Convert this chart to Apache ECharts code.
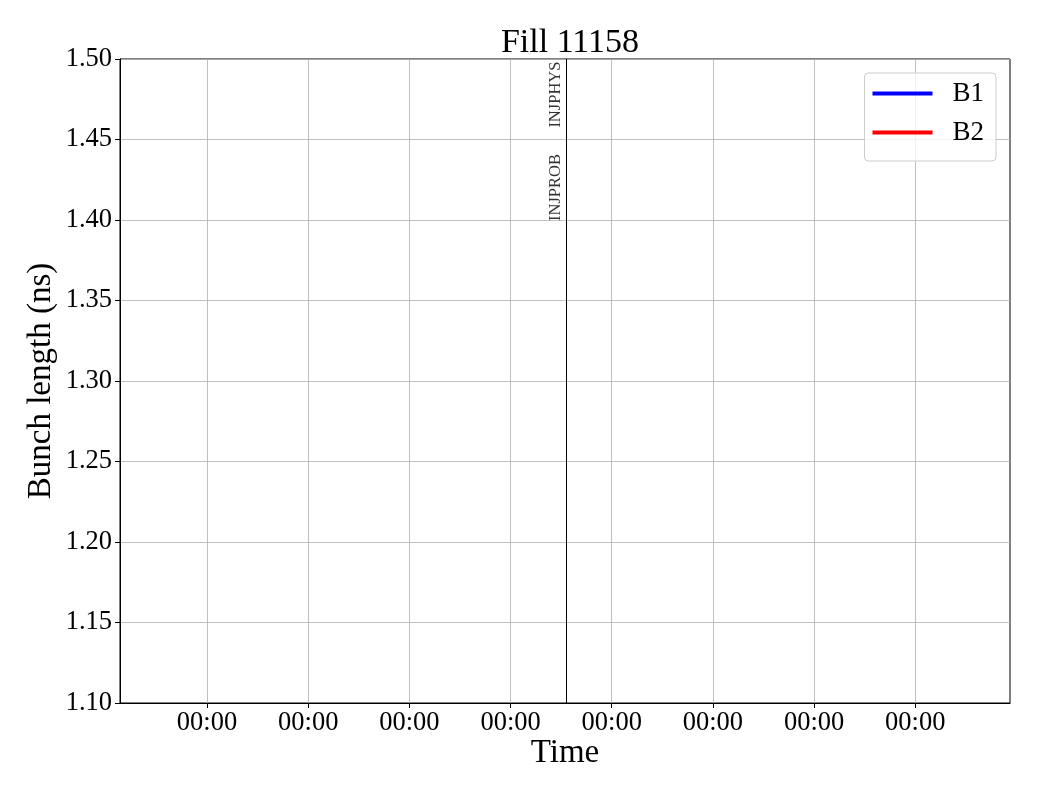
<!DOCTYPE html>
<html>
<head>
<meta charset="utf-8">
<script src="https://cdn.jsdelivr.net/npm/echarts@6/dist/echarts.min.js"></script>
<style>html,body{margin:0;padding:0;background:#fff}#c{width:1040px;height:800px}</style>
</head>
<body>
<div id="c"></div>
<script>
// ---- data ----
var title = 'Fill 11158';
var seriesNames = ['B1', 'B2'];
var seriesColors = ['#0000ff', '#ff0000'];
var b1Values = [];   // no data points visible
var b2Values = [];
var xTickValues = [1, 2, 3, 4, 5, 6, 7, 8];
var xTickLabels = ['00:00', '00:00', '00:00', '00:00', '00:00', '00:00', '00:00', '00:00'];
var xMin = 0.14, xMax = 8.936;
var yMin = 1.10, yMax = 1.50, yStep = 0.05;
var eventX = 4.55;
var eventNames = ['INJPROB', 'INJPHYS'];
var eventY = [1.40, 1.458];

var FONT = '"Liberation Serif","DejaVu Serif",serif';
var chart = echarts.init(document.getElementById('c'), null, {renderer: 'canvas'});

var eventPoints = eventNames.map(function (n, i) { return {value: [eventX, eventY[i]], name: n}; });

var option = {
  animation: false,
  backgroundColor: '#fff',
  title: {
    text: title, left: 565, top: 21, textAlign: 'center',
    textStyle: {fontFamily: FONT, fontSize: 34, fontWeight: 'normal', color: '#000'}
  },
  legend: {
    data: seriesNames,
    right: 44, top: 73, orient: 'vertical',
    icon: 'rect', itemWidth: 60, itemHeight: 4, itemGap: 12,
    padding: [7, 12, 15, 8],
    borderColor: '#cccccc', borderWidth: 1, borderRadius: 4,
    backgroundColor: 'rgba(255,255,255,0.8)',
    textStyle: {fontFamily: FONT, fontSize: 27, color: '#000', padding: [0, 0, 0, 15]}
  },
  grid: {
    left: 120, right: 30, top: 59, bottom: 97,
    show: true, borderColor: '#000', borderWidth: 1, backgroundColor: 'transparent'
  },
  xAxis: {
    type: 'value', min: xMin, max: xMax,
    name: 'Time', nameLocation: 'middle', nameGap: 34, nameMoveOverlap: false,
    nameTextStyle: {fontFamily: FONT, fontSize: 33, color: '#000'},
    axisLine: {show: true, lineStyle: {color: '#000', width: 1}},
    axisTick: {show: true, length: 5, lineStyle: {color: '#000'}, customValues: xTickValues},
    axisLabel: {
      customValues: xTickValues,
      fontFamily: FONT, fontSize: 26.5, color: '#000', margin: 7,
      formatter: function (v) { var i = xTickValues.indexOf(v); return i >= 0 ? xTickLabels[i] : ''; }
    },
    splitLine: {show: true, lineStyle: {color: '#b0b0b0', width: 0.8}}
  },
  yAxis: {
    type: 'value', min: yMin, max: yMax, interval: yStep,
    name: 'Bunch length (ns)', nameLocation: 'middle', nameGap: 62, nameRotate: 90, nameMoveOverlap: false,
    nameTextStyle: {fontFamily: FONT, fontSize: 33, color: '#000'},
    axisLine: {show: true, lineStyle: {color: '#000', width: 1}},
    axisTick: {show: true, length: 5, lineStyle: {color: '#000'}},
    axisLabel: {
      fontFamily: FONT, fontSize: 26.5, color: '#000', margin: 8,
      formatter: function (v) { return v.toFixed(2); }
    },
    splitLine: {show: true, lineStyle: {color: '#b0b0b0', width: 0.8}}
  },
  series: [
    {name: seriesNames[0], type: 'line', data: b1Values, showSymbol: false,
     lineStyle: {color: seriesColors[0], width: 3}, itemStyle: {color: seriesColors[0]}},
    {name: seriesNames[1], type: 'line', data: b2Values, showSymbol: false,
     lineStyle: {color: seriesColors[1], width: 3}, itemStyle: {color: seriesColors[1]}},
    {
      name: 'events', type: 'scatter', data: eventPoints, symbolSize: 0.001,
      silent: true,
      label: {
        show: true, formatter: '{b}', rotate: 90, position: 'inside',
        align: 'left', verticalAlign: 'bottom', offset: [-1, -2],
        fontFamily: FONT, fontSize: 16.5, color: '#000'
      },
      markLine: {
        silent: true, symbol: 'none', animation: false,
        label: {show: false},
        lineStyle: {color: '#000', width: 1, type: 'solid'},
        data: [{xAxis: eventX}]
      }
    }
  ]
};
chart.setOption(option);
</script>
</body>
</html>
